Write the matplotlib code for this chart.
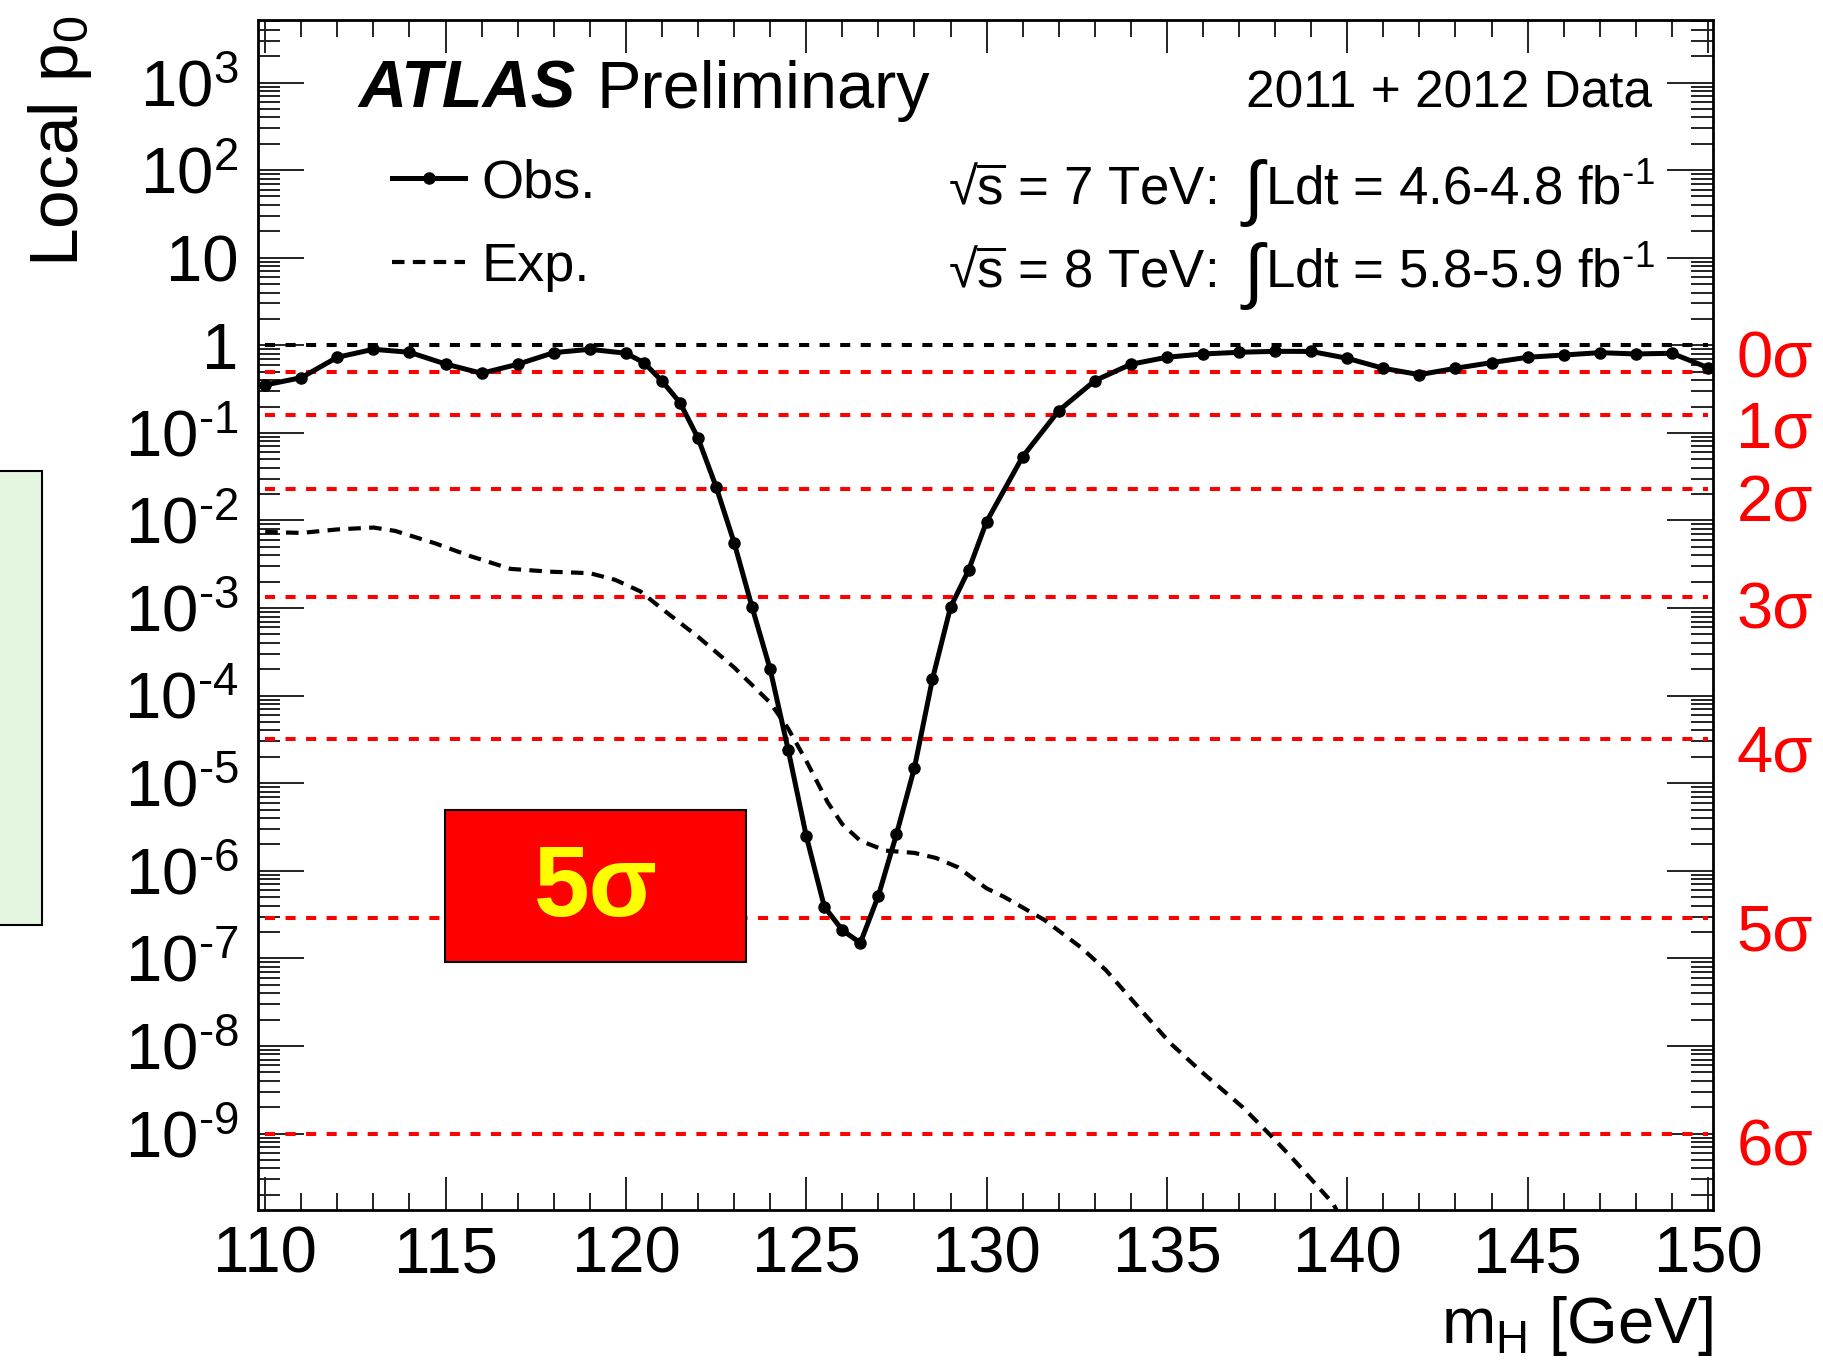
import numpy as np
import matplotlib
matplotlib.use('Agg')
import matplotlib.pyplot as plt
import matplotlib.transforms as mtransforms
from matplotlib.patches import Rectangle
from matplotlib.ticker import FixedLocator, FixedFormatter, MultipleLocator, LogLocator, NullFormatter

plt.rcParams['font.family'] = ['Liberation Sans', 'DejaVu Sans']
plt.rcParams['mathtext.fontset'] = 'custom'
plt.rcParams['mathtext.rm'] = 'Liberation Sans'
plt.rcParams['mathtext.it'] = 'Liberation Sans:italic'
plt.rcParams['mathtext.bf'] = 'Liberation Sans:bold'
plt.rcParams['mathtext.default'] = 'regular'

# observed local p0 (points with markers)
mass_obs = [110, 111, 112, 113, 114, 115, 116, 117, 118, 119, 120, 120.5,
            121, 121.5, 122, 122.5, 123, 123.5, 124, 124.5, 125, 125.5,
            126, 126.5, 127, 127.5, 128, 128.5, 129, 129.5, 130, 131,
            132, 133, 134, 135, 136, 137, 138, 139, 140, 141, 142, 143,
            144, 145, 146, 147, 148, 149, 150]
p_obs = [0.352, 0.427, 0.730, 0.900, 0.832, 0.611, 0.479, 0.607, 0.824, 0.900,
         0.811, 0.634, 0.391, 0.221, 0.0871, 0.0243, 5.6e-3, 1.02e-3, 2.0e-4,
         2.4e-5, 2.5e-6, 3.9e-7, 2.1e-7, 1.5e-7, 5.2e-7, 2.6e-6, 1.5e-5,
         1.55e-4, 1.02e-3, 2.7e-3, 9.7e-3, 0.0535, 0.179, 0.394, 0.607,
         0.730, 0.796, 0.832, 0.853, 0.851, 0.710, 0.546, 0.462, 0.546,
         0.634, 0.730, 0.774, 0.824, 0.796, 0.811, 0.555]

# expected local p0 (dashed)
mass_exp = [110.0, 111.0, 112.0, 113.0, 113.6, 114.7, 115.7, 116.8, 117.9,
            119.0, 119.7, 120.4, 121.1, 122.0, 123.0, 124.0, 124.5, 125.0,
            125.6, 126.0, 126.5, 127.2, 128.0, 128.6, 129.2, 130.0, 130.5,
            131.6, 132.6, 133.3, 134.2, 135.1, 136.0, 137.1, 137.9, 138.5,
            139.6, 140.0]
p_exp = [7.4e-3, 7.2e-3, 7.9e-3, 8.3e-3, 7.6e-3, 5.5e-3, 3.9e-3, 2.8e-3, 2.6e-3,
         2.5e-3, 2.1e-3, 1.55e-3, 9.1e-4, 4.7e-4, 2.1e-4, 8.3e-5, 4.2e-5, 1.8e-5,
         6.0e-6, 3.4e-6, 2.2e-6, 1.7e-6, 1.6e-6, 1.4e-6, 1.1e-6, 6.3e-7, 5.0e-7,
         2.75e-7, 1.35e-7, 7.4e-8, 2.8e-8, 1.07e-8, 4.9e-9, 2.0e-9, 9.3e-10,
         5.1e-10, 1.6e-10, 8e-11]

# one-sided p-values for 0..6 sigma
sigma_p = [0.5, 0.1587, 0.02275, 1.35e-3, 3.17e-5, 2.87e-7, 9.87e-10]
sigma_labels = ['0σ', '1σ', '2σ', '3σ', '4σ', '5σ', '6σ']

y_ticks = [10.0**k for k in range(-9, 4)]
y_ticklabels = [r'$10^{\text{-%d}}$' % k for k in range(9, 0, -1)] + ['1', '10', '$10^{2}$', '$10^{3}$']

W, H = 1824, 1365
def fx(px):
    return px / W
def fy(py):
    return 1 - py / H

fig = plt.figure(figsize=(W / 100, H / 100), dpi=100)
ax = fig.add_axes([fx(258), fy(1210), (1713 - 258) / W, (1210 - 20) / H])
ax.set_yscale('log')
ax.set_xlim(109.8, 150.14)
ax.set_ylim(10**-9.873, 10**3.714)

# sigma lines + p0 = 1 line
ax.plot([110, 150], [1, 1], color='black', lw=2.9, dashes=(2.5, 2.6), zorder=2)
for p in sigma_p:
    ax.plot([110, 150], [p, p], color='red', lw=2.9, dashes=(2.5, 2.6), zorder=2)

ax.plot(mass_obs, p_obs, '-o', color='black', lw=3.6, ms=8, label='Obs.', zorder=4)
ax.plot(mass_exp, p_exp, color='black', lw=3.0, dashes=(3, 2), label='Exp.', zorder=3)

# axes style (ROOT-like)
ax.xaxis.set_major_locator(MultipleLocator(5))
ax.xaxis.set_minor_locator(MultipleLocator(1))
ax.yaxis.set_major_locator(FixedLocator(y_ticks))
ax.yaxis.set_major_formatter(FixedFormatter(y_ticklabels))
ax.yaxis.set_minor_locator(LogLocator(base=10, subs=np.arange(2, 10), numticks=40))
ax.yaxis.set_minor_formatter(NullFormatter())
ax.tick_params(which='both', direction='in', top=True, right=True, width=1.4, color='#222222')
ax.tick_params(axis='x', which='major', length=24, labelsize=47, pad=11)
ax.tick_params(axis='x', which='minor', length=12)
ax.tick_params(axis='y', which='major', length=33, labelsize=47, pad=14)
ax.tick_params(axis='y', which='minor', length=16)
for s in ax.spines.values():
    s.set_linewidth(2)

# sigma labels on the right
trans = mtransforms.blended_transform_factory(ax.transAxes, ax.transData)
for i, lab in enumerate(sigma_labels):
    anchor = 1.0 if i == 0 else sigma_p[i]
    ax.text(1.016, anchor * 10**-0.17, lab, transform=trans, color='red',
            fontsize=47, ha='left', va='center', clip_on=False)

# legend
ax.legend(loc='upper left', bbox_to_anchor=((392 - 258) / 1455, 1 - (158 - 20) / 1190),
          frameon=False, fontsize=39, handlelength=1.35, handletextpad=0.3,
          labelspacing=0.63, borderpad=0, borderaxespad=0, numpoints=1)

# labels and texts
fig.text(fx(60), fy(15), r'Local p$_0$', rotation=90, ha='center', va='top', fontsize=50)
fig.text(fx(1713), fy(1343), r'm$_H$ [GeV]', ha='right', va='baseline', fontsize=47)
fig.text(fx(358), fy(108), 'ATLAS', fontsize=48, weight='bold', style='italic', va='baseline')
fig.text(fx(596), fy(108), 'Preliminary', fontsize=48, va='baseline')
fig.text(fx(1652), fy(108), '2011 + 2012 Data', fontsize=37, ha='right', va='baseline')
for base_y, part1, part2 in [(204, '7', '4.6-4.8'), (287, '8', '5.8-5.9')]:
    fig.text(fx(1216), fy(base_y), r'√$\overline{s}$ = %s TeV:' % part1,
             fontsize=38, ha='right', va='baseline')
    fig.text(fx(1243), fy(base_y + 8), '∫', fontsize=52, ha='left', va='baseline')
    fig.text(fx(1655), fy(base_y), r'Ldt = %s fb$^{\text{-1}}$' % part2,
             fontsize=38, ha='right', va='baseline')

# slide overlays: green box at the left edge and red 5 sigma box
fig.add_artist(Rectangle((fx(-5), fy(925)), fx(47), (925 - 471) / H, transform=fig.transFigure,
                         facecolor='#e4f6e0', edgecolor='black', lw=1.5))
fig.add_artist(Rectangle((fx(445), fy(962)), fx(301), 152 / H, transform=fig.transFigure,
                         facecolor='#ff0000', edgecolor='black', lw=1.5, zorder=10))
fig.text(fx(596), fy(890), '5σ', color='#ffff00', fontsize=72, weight='bold',
         ha='center', va='center', zorder=11)

fig.savefig('out.png', dpi=100)
